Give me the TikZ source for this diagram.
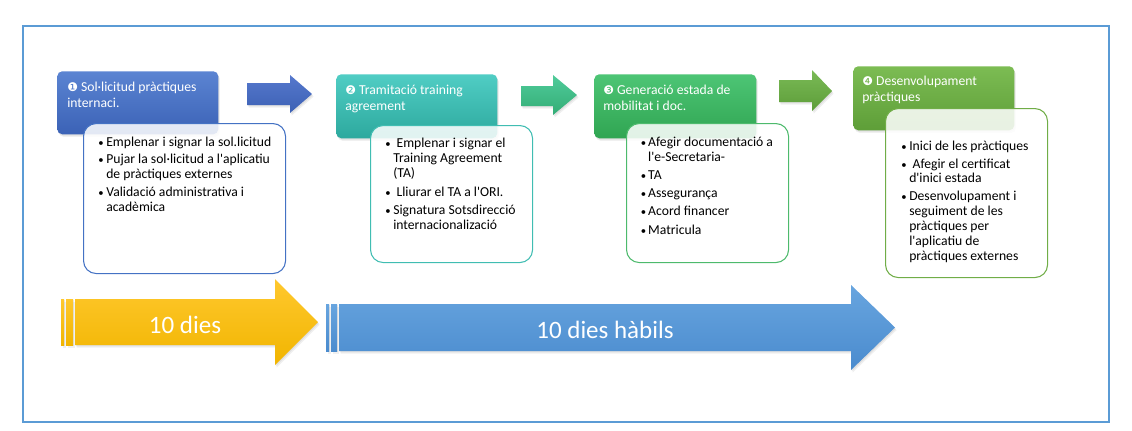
\documentclass[tikz,border=0pt]{standalone}
\usepackage{fontspec}
\setmainfont{Carlito}
\newfontfamily\dv{DejaVu Sans}
\usetikzlibrary{shadows}
\definecolor{framec}{HTML}{5B9BD5}
\definecolor{hAt}{HTML}{5B84D2}\definecolor{hAb}{HTML}{3B62B6}
\definecolor{hBt}{HTML}{50CDC4}\definecolor{hBb}{HTML}{2DA99E}
\definecolor{hCt}{HTML}{4DC575}\definecolor{hCb}{HTML}{30A552}
\definecolor{hDt}{HTML}{7CBC53}\definecolor{hDb}{HTML}{5E9E38}
\definecolor{aAt}{HTML}{5678CD}\definecolor{aAb}{HTML}{3C61B4}
\definecolor{aBt}{HTML}{50CB9A}\definecolor{aBb}{HTML}{33AD76}
\definecolor{aCt}{HTML}{7ABA56}\definecolor{aCb}{HTML}{5D9D39}
\definecolor{yt}{HTML}{FFC82E}\definecolor{yb}{HTML}{F1B500}
\definecolor{bt}{HTML}{68A5DF}\definecolor{bb}{HTML}{4A8BCE}
\definecolor{cA}{HTML}{4472C4}\definecolor{cB}{HTML}{40BDB2}
\definecolor{cC}{HTML}{4DBA6C}\definecolor{cD}{HTML}{70AD47}
\newcommand\q{\textquotesingle}
\newcommand\bl{\makebox[6pt][l]{\fontsize{8}{8}\selectfont•}}
\newcommand\blc{\makebox[5.6pt][l]{\fontsize{8}{8}\selectfont•}}
\newcommand\nm[1]{{\dv\fontsize{9}{9}\selectfont #1}}
\begin{document}
\begin{tikzpicture}[x=0.75pt,y=-0.75pt,
  shd/.style={drop shadow={shadow xshift=1.2pt,shadow yshift=-2pt,opacity=.12},
              drop shadow={shadow xshift=.6pt,shadow yshift=-1pt,opacity=.15}},
  head/.style={rectangle,rounded corners=3.75pt,anchor=north west,inner sep=0,shd},
  cbox/.style={rectangle,rounded corners=9.5pt,anchor=north west,inner sep=0,
               fill=white,fill opacity=.86,line width=.8pt},
  htext/.style={anchor=base west,inner sep=0,text=white,font=\fontsize{10.25}{12}\selectfont},
  btext/.style={anchor=base west,inner sep=0,text=black,font=\fontsize{10.25}{11.6}\selectfont},
  bigtext/.style={anchor=base,inner sep=0,text=white,font=\fontsize{18.75}{22}\selectfont},
  blockarrow/.style={shd}
]
\useasboundingbox (0,0) rectangle (1132,430);
\draw[framec,line width=1.9pt] (23,26) rectangle (1109,422);

% small block arrows
\path[blockarrow,top color=aAt,bottom color=aAb] (247,83) -- (290,83) -- (290,75) -- (312,94) -- (290,113) -- (290,105) -- (247,105) -- cycle;
\path[blockarrow,top color=aBt,bottom color=aBb] (521,86) -- (553,86) -- (553,75) -- (577,95) -- (553,115) -- (553,106) -- (521,106) -- cycle;
\path[blockarrow,top color=aCt,bottom color=aCb] (779,80) -- (812,80) -- (812,70) -- (832,91) -- (812,111) -- (812,102) -- (779,102) -- cycle;

% headers
\node[head,top color=hAt,bottom color=hAb,minimum width=161*0.75pt,minimum height=63*0.75pt] (h1) at (57,71) {};
\node[head,top color=hBt,bottom color=hBb,minimum width=161*0.75pt,minimum height=64*0.75pt] (h2) at (336,74) {};
\node[head,top color=hCt,bottom color=hCb,minimum width=162*0.75pt,minimum height=64*0.75pt] (h3) at (594,74) {};
\node[head,top color=hDt,bottom color=hDb,minimum width=161*0.75pt,minimum height=64*0.75pt] (h4) at (853,66) {};

% content boxes
\node[cbox,draw=cA,minimum width=202*0.75pt,minimum height=150*0.75pt] (c1) at (83,123) {};
\node[cbox,draw=cB,minimum width=162*0.75pt,minimum height=137*0.75pt] (c2) at (370,125) {};
\node[cbox,draw=cC,minimum width=162*0.75pt,minimum height=139*0.75pt] (c3) at (626,123) {};
\node[cbox,draw=cD,minimum width=162*0.75pt,minimum height=169*0.75pt] (c4) at (885,108) {};

% header texts
\node[htext] (t1) at (67,91) {\begin{tabular}[t]{@{}l@{}}\nm{❶} Sol·licitud pràctiques\\internaci.\end{tabular}};
\node[htext] (t2) at (345,94) {\begin{tabular}[t]{@{}l@{}}\nm{❷} Tramitació training\\agreement\end{tabular}};
\node[htext] (t3) at (603,94) {\begin{tabular}[t]{@{}l@{}}\nm{❸} Generació estada de\\mobilitat i doc.\end{tabular}};
\node[htext] (t4) at (862,85) {\begin{tabular}[t]{@{}l@{}}\nm{❹} Desenvolupament\\pràctiques\end{tabular}};

% bullet lists
\node[btext] (l1) at (98,146) {\begin{tabular}[t]{@{}l@{}l@{}}
\bl & Emplenar i signar la sol.licitud\\[1.5pt]
\bl & Pujar la sol·licitud a l\q aplicatiu\\
 & de pràctiques externes\\[1.5pt]
\bl & Validació administrativa i\\
 & acadèmica
\end{tabular}};
\node[btext] (l2) at (385,147) {\begin{tabular}[t]{@{}l@{}l@{}}
\bl & \hspace{2.5pt}Emplenar i signar el\\
 & Training Agreement\\
 & (TA)\\[2pt]
\bl & \hspace{2.5pt}Lliurar el TA a l\q ORI.\\[2pt]
\bl & Signatura Sotsdirecció\\
 & internacionalizació
\end{tabular}};
\node[btext] (l3) at (640.5,146) {\begin{tabular}[t]{@{}l@{}l@{}}
\blc & Afegir documentació a\\
 & l\q e-Secretaria-\\[2pt]
\blc & TA\\[2pt]
\blc & Assegurança\\[2pt]
\blc & Acord financer\\[2pt]
\blc & Matricula
\end{tabular}};
\node[btext,font=\fontsize{10.25}{11.1}\selectfont] (l4) at (901,150) {\begin{tabular}[t]{@{}l@{}l@{}}
\bl & Inici de les pràctiques\\[2.4pt]
\bl & \hspace{2.5pt}Afegir el certificat\\
 & d\q inici estada\\[2.4pt]
\bl & Desenvolupament i\\
 & seguiment de les\\
 & pràctiques per\\
 & l\q aplicatiu de\\
 & pràctiques externes
\end{tabular}};

% bottom timeline arrows
\fill[shd,top color=yt,bottom color=yb] (61,299) rectangle (64,345);
\fill[shd,top color=yt,bottom color=yb] (66,299) rectangle (73,345);
\path[blockarrow,top color=yt,bottom color=yb] (75,299) -- (275,299) -- (275,279) -- (318,322) -- (275,365) -- (275,345) -- (75,345) -- cycle;
\node[bigtext] (d1) at (185,333) {10 dies};

\fill[shd,top color=bt,bottom color=bb] (326,304) rectangle (329,351);
\fill[shd,top color=bt,bottom color=bb] (331,304) rectangle (337,351);
\path[blockarrow,top color=bt,bottom color=bb] (339,304) -- (851,304) -- (851,285) -- (895,327.5) -- (851,370) -- (851,351) -- (339,351) -- cycle;
\node[bigtext] (d2) at (605,338) {10 dies hàbils};
\end{tikzpicture}
\end{document}
